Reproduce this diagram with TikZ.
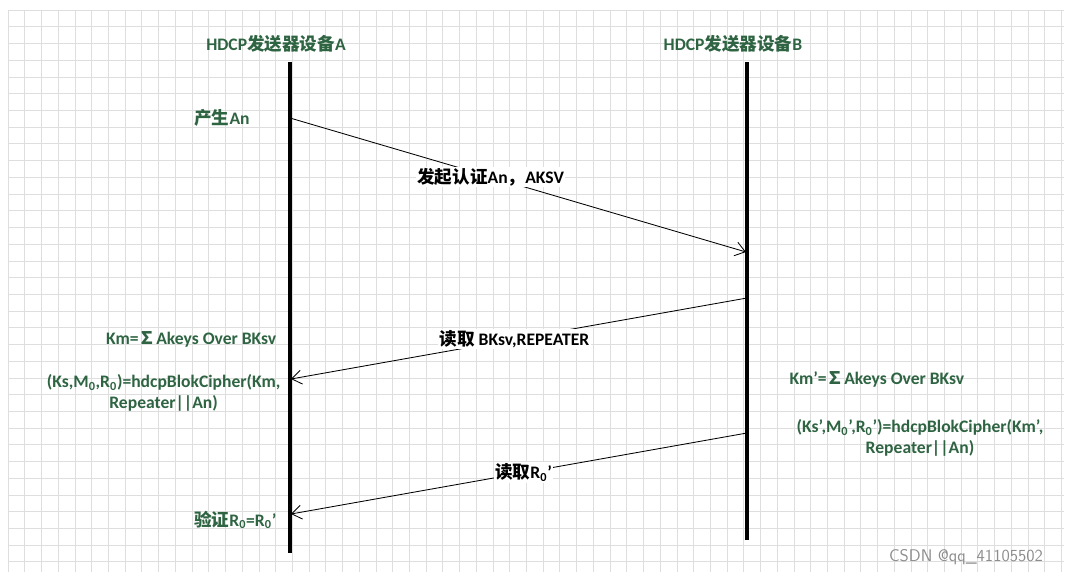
\documentclass[tikz,border=0pt]{standalone}
\usepackage{fontspec}
\setmainfont{Carlito}
\newfontfamily\cjk{Noto Sans CJK SC}
\usetikzlibrary{positioning,arrows.meta}
\definecolor{txtgreen}{RGB}{46,100,66}
\newcommand{\zs}{\textsubscript{0}}
\tikzset{
  lifeline/.style={line width=2.2pt},
  msg/.style={-{Straight Barb[length=7pt,width=10pt]}, line width=0.6pt},
  lbl/.style={fill=white, inner sep=1pt, font=\bfseries\fontsize{12.5}{15}\selectfont},
  note/.style={text=txtgreen, font=\bfseries\fontsize{12.5}{15}\selectfont, align=center, inner sep=1pt}
}
\begin{document}
\begin{tikzpicture}[x=0.025cm, y=-0.025cm]
            \useasboundingbox (0,0) rectangle (1072,576);
            % Raster
            \foreach \gx in {0,...,63} \draw[black!13] (8+16.72*\gx,10) -- (8+16.72*\gx,572);
            \foreach \gy in {0,...,33} \draw[black!13] (8,10+16.72*\gy) -- (1064,10+16.72*\gy);

            % Lebenslinien
            \node[note] (hA) at (276,44) {HDCP{\cjk 发送器设备}A};
            \node[note] (hB) at (733,44) {HDCP{\cjk 发送器设备}B};
            \coordinate (a0) at (290,62);  \coordinate (a1) at (290,553);
            \coordinate (b0) at (747,62);  \coordinate (b1) at (747,540);
            \draw[lifeline] (a0) -- (a1);
            \draw[lifeline] (b0) -- (b1);

            % Nachrichten
            \coordinate (m1s) at (290,118); \coordinate (m1e) at (746,252);
            \coordinate (m2s) at (747,298); \coordinate (m2e) at (291,379);
            \coordinate (m3s) at (747,433); \coordinate (m3e) at (291,514);
            \draw[msg] (m1s) -- node[lbl, pos=0.44] (l1) {{\cjk 发起认证}An{\cjk ，}AKSV} (m1e);
            \draw[msg] (m2s) -- node[lbl, pos=0.51] (l2) {{\cjk 读取} BKsv,REPEATER} (m2e);
            \draw[msg] (m3s) -- node[lbl, pos=0.49] (l3) {{\cjk 读取}R\zs'} (m3e);

            % Notizen
            \node[note] (gen) at (222,118) {{\cjk 产生}An};
            \node[note, anchor=east] (kmA) at (278,339) {Km={\cjk ∑}Akeys Over BKsv};
            \node[note, anchor=east] (ciA) at (282,393) {(Ks,M\zs,R\zs)=hdcpBlokCipher(Km,\\Repeater||An)};
            \node[note, anchor=east] (ver) at (278,520) {{\cjk 验证}R\zs=R\zs'};
            \node[note, anchor=west] (kmB) at (788,379) {Km’={\cjk ∑}Akeys Over BKsv};
            \node[note] (ciB) at (920,438) {(Ks’,M\zs’,R\zs’)=hdcpBlokCipher(Km’,\\Repeater||An)};
            \node[text=black!45, font=\sffamily\fontsize{12}{14}\selectfont] (wm) at (966,557) {CSDN @qq\_41105502};
        \end{tikzpicture}
\end{document}
